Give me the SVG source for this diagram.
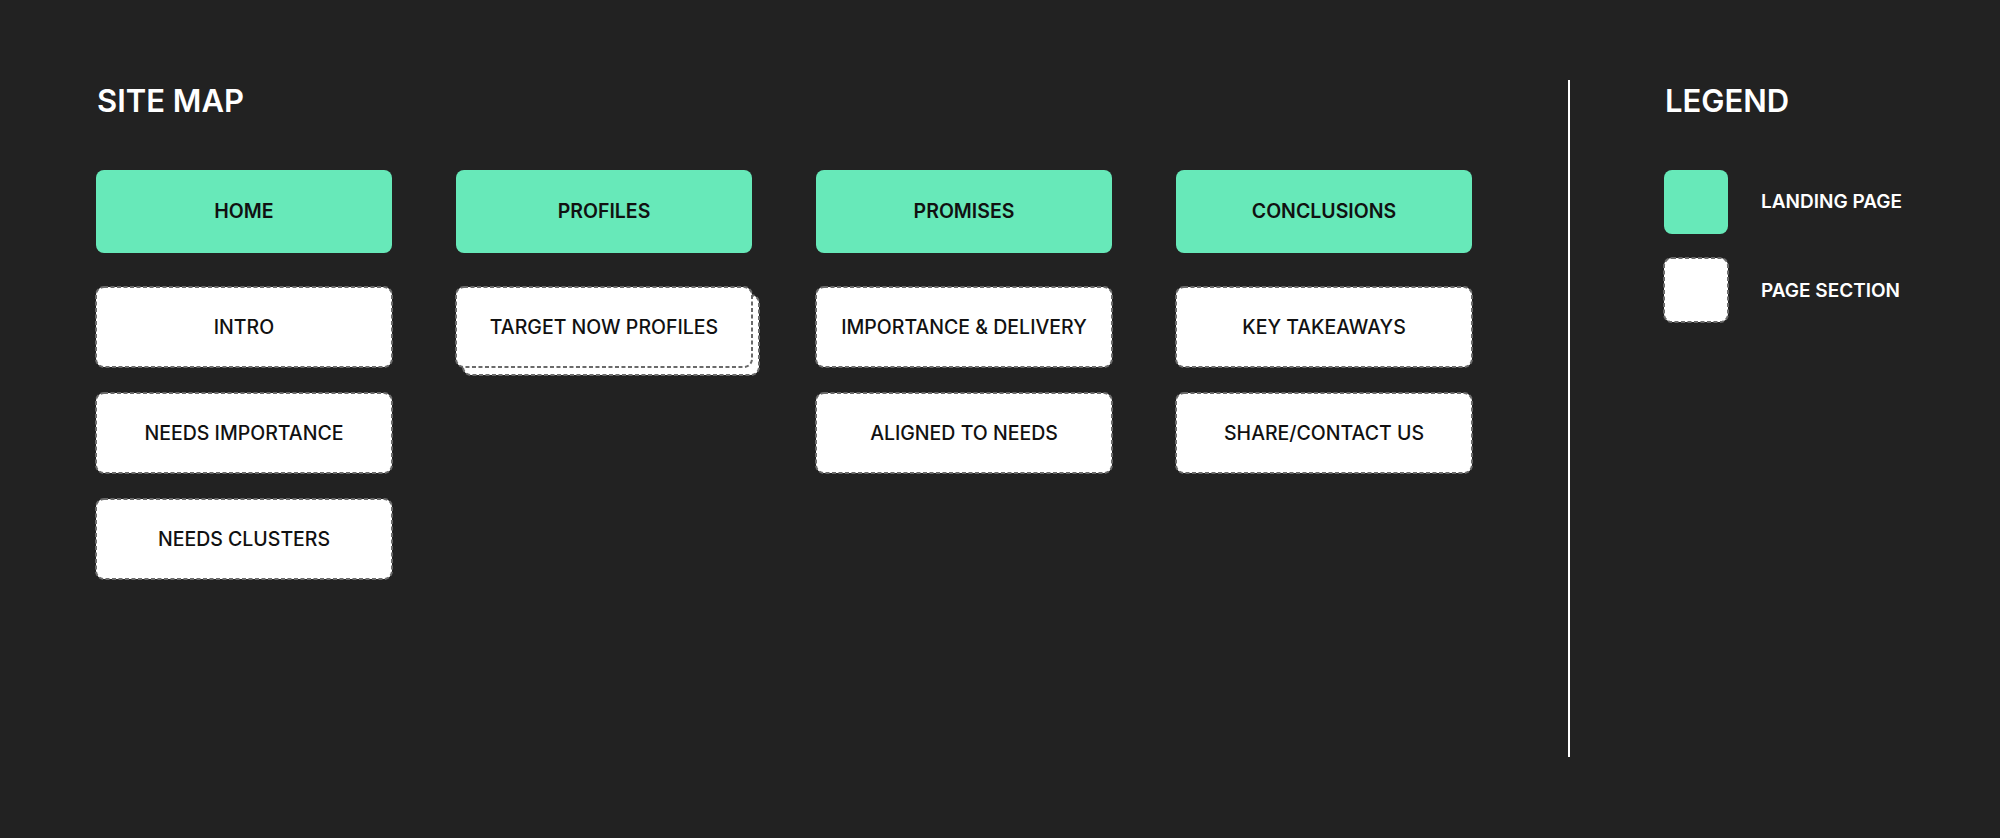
<svg xmlns="http://www.w3.org/2000/svg" width="2000" height="838" viewBox="0 0 2000 838">
<style>
.bg{fill:#222222}
.land{fill:#67e9b9}
.sec{fill:#ffffff;stroke:#6a6a6a;stroke-width:2;stroke-dasharray:4 2.5}
.title{font-family:Inter,"Liberation Sans",sans-serif;font-size:31px;font-weight:600;fill:#ffffff}
.lt{font-family:Inter,"Liberation Sans",sans-serif;font-size:19.5px;font-weight:600;fill:#111111;text-anchor:middle}
.st{font-family:Inter,"Liberation Sans",sans-serif;font-size:19.5px;font-weight:500;fill:#111111;text-anchor:middle}
.leg{font-family:Inter,"Liberation Sans",sans-serif;font-size:19px;font-weight:600;fill:#ffffff}
</style>
<rect class="bg" x="0" y="0" width="2000" height="838"/>
<text class="title" x="97" y="112">SITE MAP</text>
<g id="home"><rect class="land" x="96" y="170" width="296" height="83" rx="8"/><text class="lt" x="244" y="218">HOME</text></g>
<g id="profiles"><rect class="land" x="456" y="170" width="296" height="83" rx="8"/><text class="lt" x="604" y="218">PROFILES</text></g>
<g id="promises"><rect class="land" x="816" y="170" width="296" height="83" rx="8"/><text class="lt" x="964" y="218">PROMISES</text></g>
<g id="conclusions"><rect class="land" x="1176" y="170" width="296" height="83" rx="8"/><text class="lt" x="1324" y="218">CONCLUSIONS</text></g>
<g id="intro"><rect class="sec" x="96" y="287" width="296" height="80" rx="8"/><text class="st" x="244" y="334">INTRO</text></g>
<g id="needs-importance"><rect class="sec" x="96" y="393" width="296" height="80" rx="8"/><text class="st" x="244" y="440">NEEDS IMPORTANCE</text></g>
<g id="needs-clusters"><rect class="sec" x="96" y="499" width="296" height="80" rx="8"/><text class="st" x="244" y="546">NEEDS CLUSTERS</text></g>
<g id="target-now-profiles"><rect class="sec" x="463" y="295" width="296" height="80" rx="8"/><rect class="sec" x="456" y="287" width="296" height="80" rx="8"/><text class="st" x="604" y="334">TARGET NOW PROFILES</text></g>
<g id="importance-delivery"><rect class="sec" x="816" y="287" width="296" height="80" rx="8"/><text class="st" x="964" y="334">IMPORTANCE &amp; DELIVERY</text></g>
<g id="aligned-to-needs"><rect class="sec" x="816" y="393" width="296" height="80" rx="8"/><text class="st" x="964" y="440">ALIGNED TO NEEDS</text></g>
<g id="key-takeaways"><rect class="sec" x="1176" y="287" width="296" height="80" rx="8"/><text class="st" x="1324" y="334">KEY TAKEAWAYS</text></g>
<g id="share-contact"><rect class="sec" x="1176" y="393" width="296" height="80" rx="8"/><text class="st" x="1324" y="440">SHARE/CONTACT US</text></g>
<g id="connectors"></g>
<line x1="1569" y1="80" x2="1569" y2="757" stroke="#ffffff" stroke-width="2"/>
<g id="legend">
<text class="title" x="1665" y="112">LEGEND</text>
<rect class="land" x="1664" y="170" width="64" height="64" rx="8"/>
<text class="leg" x="1761" y="208">LANDING PAGE</text>
<rect class="sec" x="1664" y="258" width="64" height="64" rx="8"/>
<text class="leg" x="1761" y="297">PAGE SECTION</text>
</g>
</svg>
